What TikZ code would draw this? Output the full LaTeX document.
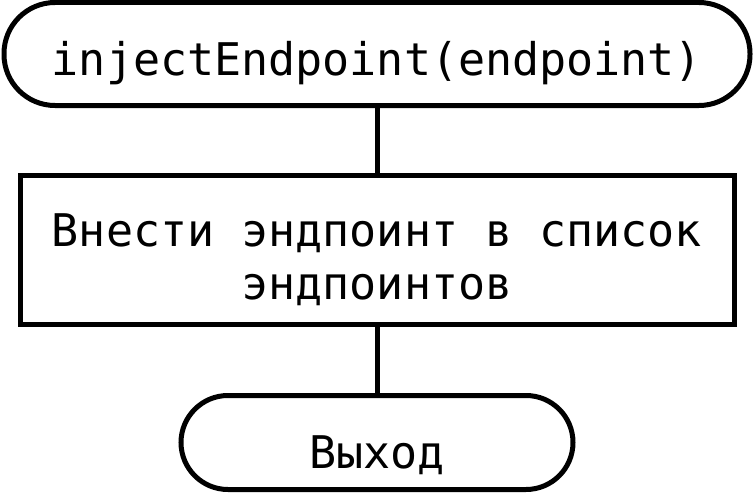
\documentclass[tikz,border=0pt]{standalone}
\usepackage{fontspec}
\setmonofont{DejaVu Sans Mono}
\usepackage{tikz}
\usetikzlibrary{positioning}

\begin{document}
\begin{tikzpicture}[
						x=1pt, y=1pt,
						every node/.style={font=\ttfamily\fontsize{45pt}{53pt}\selectfont, line width=5pt, align=center},
						terminal/.style={draw, rounded corners=#1},
						process/.style={draw},
						node distance=65pt
				]
    \useasboundingbox (0,0) rectangle (755,-495);

    \node [terminal=51pt, minimum width=746pt, minimum height=103pt,
           text height=42pt, text depth=0pt] (Start) at (377,-54) {injectEndpoint(endpoint)};
    \node [process, minimum width=714pt, minimum height=149pt,
           text height=98pt, text depth=0pt, below=of Start] (AddEndpoint) {Внести эндпоинт в список\\эндпоинтов};
    \node [terminal=47pt, minimum width=392pt, minimum height=94pt,
           text height=51pt, text depth=0pt, below=66pt of AddEndpoint] (Exit) {Выход};

    % connectors
    \draw[line width=5pt] (Start) -- (AddEndpoint);
    \draw[line width=5pt] (AddEndpoint) -- (Exit);

\end{tikzpicture}
\end{document}
